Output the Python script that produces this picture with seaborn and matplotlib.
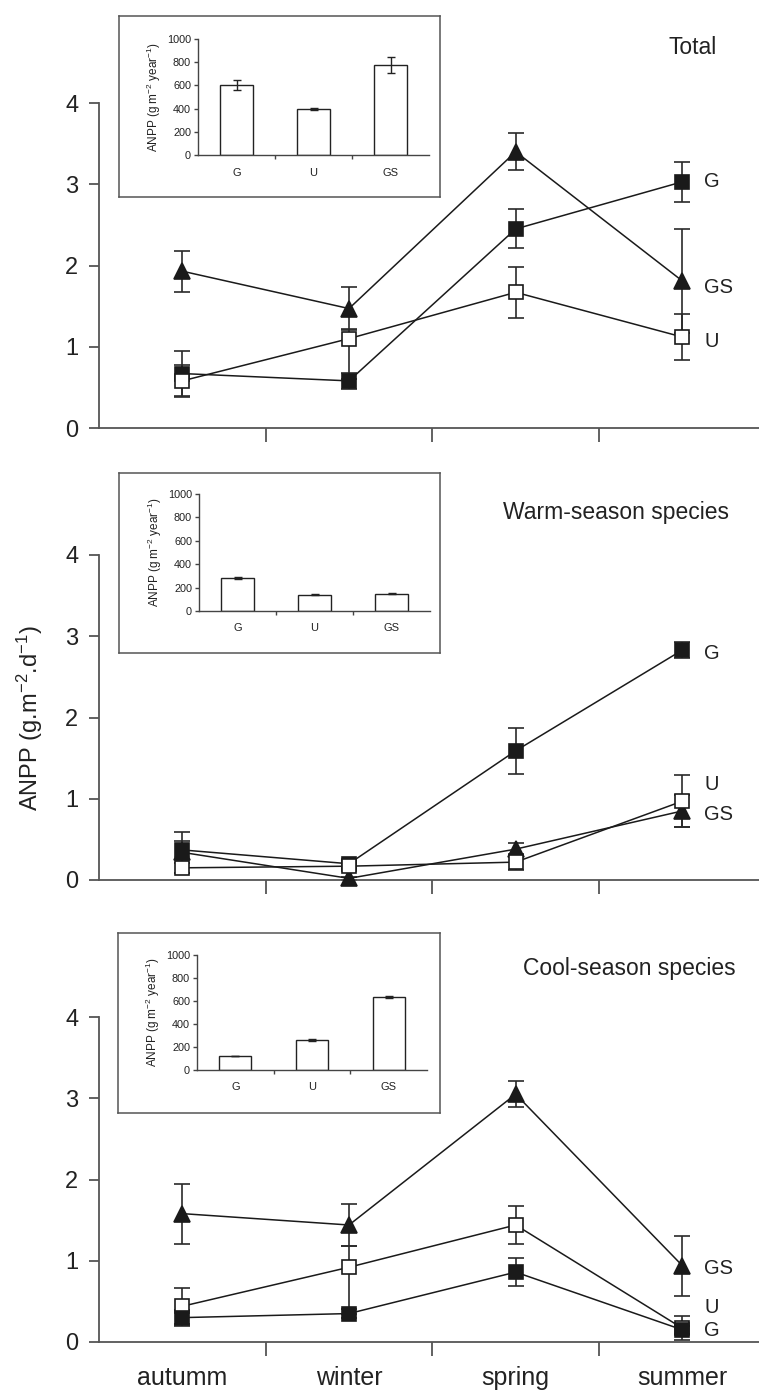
import numpy as np
import pandas as pd
import matplotlib
matplotlib.use("Agg")
import matplotlib.pyplot as plt
import seaborn as sns

# ---------------- data ----------------
SEASONS = ["autumm", "winter", "spring", "summer"]
TREATMENTS = ["G", "U", "GS"]

# Total
TOTAL_G = [0.67, 0.58, 2.45, 3.03]
TOTAL_G_ERR = [0.28, 0.10, 0.24, 0.25]
TOTAL_U = [0.58, 1.10, 1.67, 1.12]
TOTAL_U_ERR = [0.20, 0.12, 0.31, 0.28]
TOTAL_U_ERR_LOW = [0.20, 0.50, 0.31, 0.28]
TOTAL_GS = [1.93, 1.47, 3.40, 1.81]
TOTAL_GS_ERR = [0.25, 0.26, 0.23, 0.64]
TOTAL_BARS = [603, 397, 776]
TOTAL_BARS_ERR = [45, 5, 65]

# Warm-season species
WARM_G = [0.37, 0.20, 1.59, 2.83]
WARM_G_ERR = [0.11, 0.05, 0.28, 0.10]
WARM_U = [0.15, 0.17, 0.22, 0.97]
WARM_U_ERR = [0.06, 0.04, 0.10, 0.32]
WARM_GS = [0.34, 0.02, 0.38, 0.85]
WARM_GS_ERR = [0.25, 0.02, 0.08, 0.20]
WARM_BARS = [283, 140, 148]
WARM_BARS_ERR = [8, 6, 5]

# Cool-season species
COOL_G = [0.30, 0.35, 0.86, 0.15]
COOL_G_ERR = [0.10, 0.06, 0.17, 0.05]
COOL_U = [0.44, 0.92, 1.44, 0.17]
COOL_U_ERR = [0.22, 0.26, 0.23, 0.15]
COOL_U_ERR_LOW = [0.22, 0.57, 0.23, 0.15]
COOL_GS = [1.58, 1.44, 3.05, 0.94]
COOL_GS_ERR = [0.37, 0.26, 0.16, 0.37]
COOL_BARS = [122, 261, 635]
COOL_BARS_ERR = [4, 6, 6]

# ---------------- style ----------------
sns.set_style("ticks")
plt.rcParams["font.family"] = ["Liberation Sans", "DejaVu Sans"]
plt.rcParams["mathtext.fontset"] = "custom"
plt.rcParams["mathtext.rm"] = "Liberation Sans"
plt.rcParams["mathtext.it"] = "Liberation Sans:italic"
plt.rcParams["mathtext.bf"] = "Liberation Sans:bold"

TXT = "#222222"
LINE = "#1a1a1a"
SPINE = "#555555"

W, H = 759, 1396
fig = plt.figure(figsize=(W / 100, H / 100), dpi=100)


def fa(x0, y0, x1, y1):
    return [x0 / W, 1 - y1 / H, (x1 - x0) / W, (y1 - y0) / H]


MARKERS = {"G": ("s", LINE), "U": ("s", "white"), "GS": ("^", LINE)}


def main_panel(rect, series, show_xlabels, labels):
    ax = fig.add_axes(fa(*rect))
    pos = np.arange(len(SEASONS))
    for name, mean, err_hi, err_lo in series:
        ax.errorbar(pos, mean, yerr=[err_lo, err_hi], fmt="none", ecolor="#2a2a2a",
                    elinewidth=1.2, capsize=6, capthick=1.2, zorder=2, clip_on=False)
    for name, mean, err_hi, err_lo in series:
        mk, fc = MARKERS[name]
        df = pd.DataFrame({"pos": pos, "value": mean})
        sns.lineplot(data=df, x="pos", y="value", ax=ax, color=LINE, marker=mk,
                     markersize=10.5 if mk == "s" else 11.5,
                     markerfacecolor=fc, markeredgecolor=LINE, markeredgewidth=1.2,
                     linewidth=1.1, sort=False, errorbar=None, zorder=3, clip_on=False)
    ax.set_xlim(-0.5, 3.46)
    ax.set_ylim(0, 4)
    ax.set_xlabel("")
    ax.set_ylabel("")
    for s in ["top", "right"]:
        ax.spines[s].set_visible(False)
    for s in ["left", "bottom"]:
        ax.spines[s].set_color(SPINE)
        ax.spines[s].set_linewidth(1.3)
    ax.set_yticks([0, 1, 2, 3, 4])
    ax.set_yticklabels(["0", "1", "2", "3", "4"])
    ax.tick_params(axis="y", direction="out", length=7, width=1.3, color=SPINE,
                   labelsize=17, labelcolor=TXT, pad=8)
    ax.set_xticks(pos)
    ax.set_xticks([0.5, 1.5, 2.5], minor=True)
    if show_xlabels:
        ax.set_xticklabels(SEASONS)
    else:
        ax.set_xticklabels([])
    ax.tick_params(axis="x", which="major", length=0, labelsize=18, labelcolor=TXT, pad=17)
    ax.tick_params(axis="x", which="minor", direction="out", length=10, width=1.3, color=SPINE)
    for txt, yv in labels:
        ax.text(3.13, yv, txt, ha="left", va="center", fontsize=14.5, color=TXT, clip_on=False)
    return ax


def inset(frame_rect, rect, values, errs):
    fr = fig.add_axes(fa(*frame_rect))
    fr.set_xticks([])
    fr.set_yticks([])
    fr.set_facecolor("white")
    for s in fr.spines.values():
        s.set_color(SPINE)
        s.set_linewidth(1.1)
    iax = fig.add_axes(fa(*rect))
    iax.set_facecolor("none")
    df = pd.DataFrame({"treatment": TREATMENTS, "value": values})
    sns.barplot(data=df, x="treatment", y="value", ax=iax, color="white", saturation=1,
                edgecolor="#222222", linewidth=1.0, width=0.42, errorbar=None)
    iax.errorbar(np.arange(3), values, yerr=errs, fmt="none", ecolor="#222222",
                 elinewidth=1.0, capsize=3, capthick=1.0, zorder=3)
    iax.set_xlim(-0.5, 2.5)
    iax.set_ylim(0, 1000)
    iax.set_xlabel("")
    iax.set_ylabel("ANPP (g m$^{-2}$ year$^{-1}$)", fontsize=8.5, color=TXT, labelpad=3)
    for s in ["top", "right"]:
        iax.spines[s].set_visible(False)
    for s in ["left", "bottom"]:
        iax.spines[s].set_color("#444444")
        iax.spines[s].set_linewidth(1.0)
    iax.set_yticks(np.arange(0, 1001, 200))
    iax.tick_params(axis="y", direction="out", length=3, width=1.0, color="#444444",
                    labelsize=7.8, labelcolor=TXT, pad=2)
    iax.set_xticks([0.5, 1.5], minor=True)
    iax.tick_params(axis="x", which="major", length=0, labelsize=8, labelcolor=TXT, pad=9)
    iax.tick_params(axis="x", which="minor", direction="out", length=3, width=1.0, color="#444444")
    return iax


# --- panels ---
main_panel((99, 103, 759, 428),
           [("G", TOTAL_G, TOTAL_G_ERR, TOTAL_G_ERR),
            ("GS", TOTAL_GS, TOTAL_GS_ERR, TOTAL_GS_ERR),
            ("U", TOTAL_U, TOTAL_U_ERR, TOTAL_U_ERR_LOW)],
           False, [("G", 3.03), ("GS", 1.73), ("U", 1.06)])
inset((119, 16, 440, 197), (198, 39, 429, 155), TOTAL_BARS, TOTAL_BARS_ERR)

main_panel((99, 555, 759, 880),
           [("G", WARM_G, WARM_G_ERR, WARM_G_ERR),
            ("GS", WARM_GS, WARM_GS_ERR, WARM_GS_ERR),
            ("U", WARM_U, WARM_U_ERR, WARM_U_ERR)],
           False, [("G", 2.79), ("U", 1.17), ("GS", 0.81)])
inset((119, 473, 440, 653), (199, 494, 430, 611), WARM_BARS, WARM_BARS_ERR)

main_panel((99, 1017, 759, 1342),
           [("U", COOL_U, COOL_U_ERR, COOL_U_ERR_LOW),
            ("GS", COOL_GS, COOL_GS_ERR, COOL_GS_ERR),
            ("G", COOL_G, COOL_G_ERR, COOL_G_ERR)],
           True, [("GS", 0.90), ("U", 0.42), ("G", 0.14)])
inset((118, 933, 440, 1113), (197, 955, 427, 1070), COOL_BARS, COOL_BARS_ERR)

# titles
fig.text(693 / W, 1 - 47 / H, "Total", ha="center", va="center", fontsize=16.5, color=TXT)
fig.text(616 / W, 1 - 513 / H, "Warm-season species", ha="center", va="center", fontsize=16.5, color=TXT)
fig.text(629 / W, 1 - 969 / H, "Cool-season species", ha="center", va="center", fontsize=16.5, color=TXT)

# shared y label
fig.text(30 / W, 1 - 718 / H, "ANPP (g.m$^{-2}$.d$^{-1}$)", rotation=90, ha="center", va="center",
         fontsize=17, color=TXT)

fig.savefig("out.png", dpi=100)
